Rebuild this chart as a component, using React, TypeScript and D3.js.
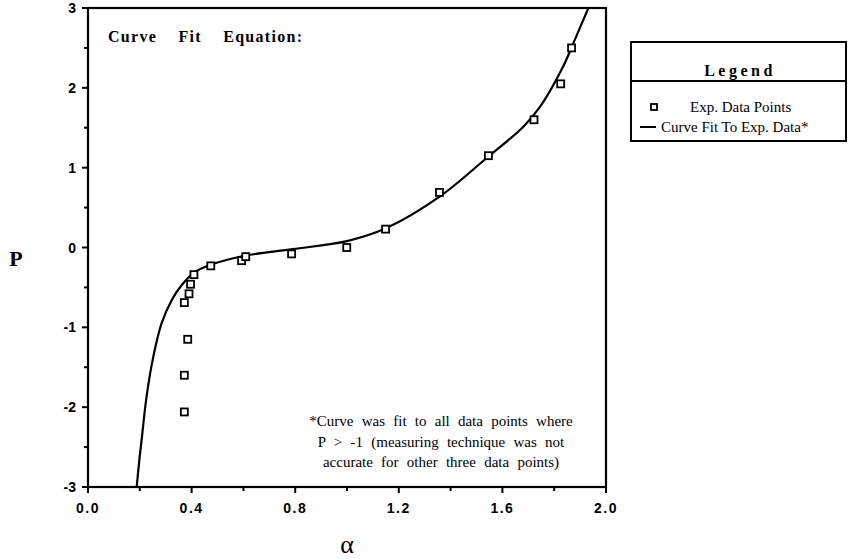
import React from "react";
import * as d3 from "d3";

// Experimental measurements (alpha, P)
const expAlpha = [0.372, 0.372, 0.385, 0.372, 0.39, 0.396, 0.409, 0.474, 0.593, 0.609, 0.786, 0.999, 1.149, 1.357, 1.546, 1.722, 1.825, 1.867];
const expP = [-2.06, -1.6, -1.15, -0.69, -0.58, -0.46, -0.34, -0.23, -0.165, -0.115, -0.08, 0.0, 0.23, 0.69, 1.15, 1.6, 2.05, 2.5];

// Fitted curve, sampled along alpha
const fitAlpha = [0.188, 0.197, 0.207, 0.226, 0.252, 0.284, 0.323, 0.362, 0.407, 0.471, 0.61, 0.79, 1.0, 1.15, 1.359, 1.546, 1.68, 1.745, 1.835, 1.874, 1.932];
const fitP = [-3.0, -2.7, -2.41, -1.87, -1.37, -0.95, -0.66, -0.47, -0.32, -0.22, -0.1, -0.02, 0.08, 0.24, 0.64, 1.14, 1.51, 1.76, 2.27, 2.56, 3.0];

const xTicks = [0, 0.4, 0.8, 1.2, 1.6, 2.0];
const xTickLabels = ["0.0", "0.4", "0.8", "1.2", "1.6", "2.0"];
const xMinorTicks = [0.2, 0.6, 1.0, 1.4, 1.8];
const yTicks = [-3, -2, -1, 0, 1, 2, 3];
const yTickLabels = ["-3", "-2", "-1", "0", "1", "2", "3"];
const yMinorTicks = [-2.5, -1.5, -0.5, 0.5, 1.5, 2.5];

const footnote = [
  "*Curve was fit to all data points where",
  "P > -1 (measuring technique was not",
  "accurate for other three data points)",
];
const legendTitle = "Legend";
const legendItems = ["Exp. Data Points", "Curve Fit To Exp. Data*"];

const W = 848;
const H = 559;
const L = 88, R = 606, T = 8, B = 487;

export default function App() {
  const x = d3.scaleLinear().domain([0, 2]).range([L, R]);
  const y = d3.scaleLinear().domain([-3, 3]).range([B, T]);

  const fitData = fitAlpha.map((a, i) => [a, fitP[i]] as [number, number]);
  const line = d3
    .line<[number, number]>()
    .x((d) => x(d[0]))
    .y((d) => y(d[1]))
    .curve(d3.curveCatmullRom.alpha(0.5));

  const tickFont = {
    fontFamily: "'Liberation Sans', Arial, sans-serif",
    fontWeight: 700,
    fontSize: 14,
  } as const;
  const serif = "'Liberation Serif', 'Times New Roman', serif";

  return (
    <svg
      width={W}
      height={H}
      viewBox={`0 0 ${W} ${H}`}
      style={{ position: "absolute", left: 0, top: 0, background: "#fff" }}
    >
      <defs>
        <clipPath id="plotClip">
          <rect x={L} y={T} width={R - L} height={B - T} />
        </clipPath>
      </defs>
      <rect x={0} y={0} width={W} height={H} fill="#fff" />

      {/* plot frame */}
      <rect x={L} y={T} width={R - L} height={B - T} fill="none" stroke="#000" strokeWidth={2.2} />

      {/* x ticks */}
      {xTicks.map((t, i) => (
        <g key={"xt" + i}>
          <line x1={x(t)} x2={x(t)} y1={B} y2={B + 6} stroke="#000" strokeWidth={2} />
          <text x={x(t)} y={513} textAnchor="middle" {...tickFont} letterSpacing={1.5}>
            {xTickLabels[i]}
          </text>
        </g>
      ))}
      {xMinorTicks.map((t, i) => (
        <line key={"xm" + i} x1={x(t)} x2={x(t)} y1={B} y2={B + 4} stroke="#000" strokeWidth={2} />
      ))}

      {/* y ticks */}
      {yTicks.map((t, i) => (
        <g key={"yt" + i}>
          <line x1={L - 6} x2={L} y1={y(t)} y2={y(t)} stroke="#000" strokeWidth={2} />
          <text x={76} y={y(t) + 5} textAnchor="end" {...tickFont}>
            {yTickLabels[i]}
          </text>
        </g>
      ))}
      {yMinorTicks.map((t, i) => (
        <line key={"ym" + i} x1={L - 4} x2={L} y1={y(t)} y2={y(t)} stroke="#000" strokeWidth={2} />
      ))}

      {/* axis titles */}
      <text x={347} y={553} textAnchor="middle" fontFamily={serif} fontSize={26}>
        α
      </text>
      <text x={16} y={266} textAnchor="middle" fontFamily={serif} fontWeight={700} fontSize={22}>
        P
      </text>

      {/* fitted curve */}
      <path d={line(fitData) || ""} fill="none" stroke="#000" strokeWidth={2.2} clipPath="url(#plotClip)" />

      {/* experimental points */}
      {expAlpha.map((a, i) => (
        <rect
          key={"p" + i}
          x={x(a) - 3.5}
          y={y(expP[i]) - 3.5}
          width={7}
          height={7}
          fill="#fff"
          stroke="#000"
          strokeWidth={1.8}
        />
      ))}

      {/* annotations */}
      <text x={108} y={42} fontFamily={serif} fontWeight={700} fontSize={16} letterSpacing={1.3} wordSpacing={16}>
        Curve Fit Equation:
      </text>
      {footnote.map((s, i) => (
        <text
          key={"fn" + i}
          x={441}
          y={426 + i * 20.5}
          textAnchor="middle"
          fontFamily={serif}
          fontSize={15}
          wordSpacing={4.5}
        >
          {s}
        </text>
      ))}

      {/* legend */}
      <rect x={631} y={42} width={215} height={99} fill="none" stroke="#000" strokeWidth={2} />
      <line x1={631} x2={846} y1={81} y2={81} stroke="#000" strokeWidth={1.8} />
      <text x={740} y={76} textAnchor="middle" fontFamily={serif} fontWeight={700} fontSize={16} letterSpacing={3.5}>
        {legendTitle}
      </text>
      <rect x={651} y={104} width={6} height={6} fill="#fff" stroke="#000" strokeWidth={1.8} />
      <text x={690} y={112} fontFamily={serif} fontSize={15}>
        {legendItems[0]}
      </text>
      <line x1={640} x2={656} y1={127} y2={127} stroke="#000" strokeWidth={2} />
      <text x={661} y={132} fontFamily={serif} fontSize={15}>
        {legendItems[1]}
      </text>
    </svg>
  );
}
